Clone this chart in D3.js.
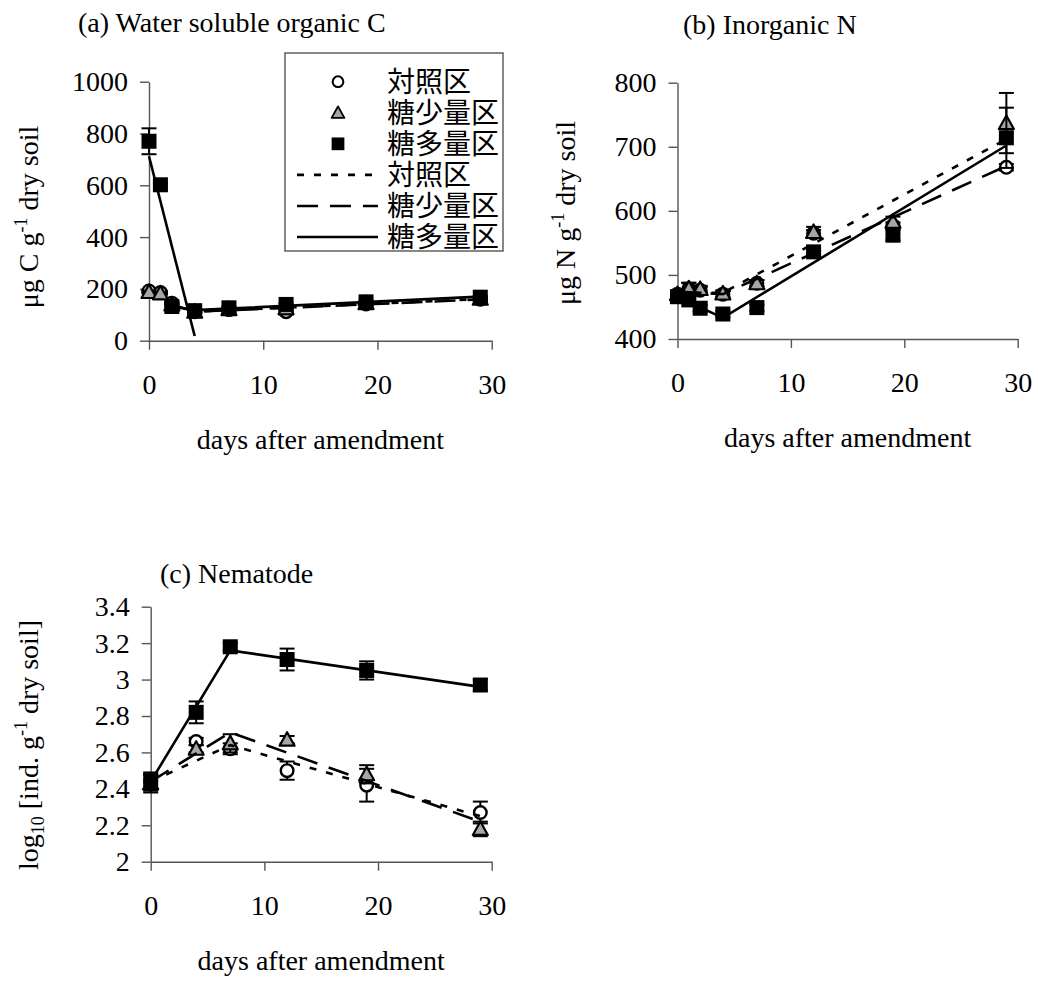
<meta charset="utf-8" />
<style>
	body { margin: 0; background: #fff; }
	text { font-family: 'Liberation Serif', 'Noto Sans CJK JP', serif; }
</style>
<svg width="1038" height="981"></svg>
<script src="https://cdn.jsdelivr.net/npm/d3@7/dist/d3.min.js"></script>
<script>
	// sampling days
	var daysAB = [0, 1, 2, 4, 7, 12, 19, 29];
	var daysC = [0, 4, 7, 12, 19, 29];

	// (a) water soluble organic C
	var ctrlA = [192, 186, 145, 112, 120, 112, 142, 160];
	var lowA = [188, 183, 140, 112, 122, 125, 145, 162];
	var highA = [770, 602, 132, 116, 127, 140, 150, 168];
	var ctrlAErr = [5, 5, 5, 5, 5, 5, 5, 5];
	var lowAErr = [5, 5, 5, 5, 5, 5, 5, 5];
	var highAErr = [50, 8, 8, 5, 5, 5, 5, 5];
	var ctrlALine = [[2, 140], [4, 112], [29, 161]];
	var lowALine = [[2, 140], [4, 112], [29, 159]];
	var highALine1 = [[0, 712], [4, 18]];
	var highALine2 = [[2, 132], [4, 118], [29, 170]];

	// (b) inorganic N
	var ctrlB = [470, 478, 476, 470, 487, 565, 577, 668];
	var lowB = [470, 479, 478, 471, 487, 567, 583, 737];
	var highB = [466, 461, 448, 439, 449, 536, 562, 714];
	var ctrlBErr = [5, 10, 5, 5, 5, 5, 5, 5];
	var lowBErr = [5, 8, 5, 5, 5, 8, 8, 47];
	var highBErr = [5, 5, 5, 5, 5, 5, 8, 47];
	var ctrlBLine = [[0, 472], [4, 472], [29, 712]];
	var lowBLine = [[0, 474], [4, 470], [29, 670]];
	var highBLine = [[0, 466], [4, 433], [29, 702]];

	// (c) nematode
	var ctrlC = [2.44, 2.66, 2.62, 2.5, 2.42, 2.27];
	var lowC = [2.43, 2.62, 2.65, 2.67, 2.48, 2.18];
	var highC = [2.44, 2.82, 3.18, 3.11, 3.05, 2.97];
	var ctrlCErr = [0.05, 0.02, 0.03, 0.05, 0.09, 0.06];
	var lowCErr = [0.05, 0.02, 0.05, 0.02, 0.05, 0.04];
	var highCErr = [0.04, 0.06, 0.02, 0.06, 0.05, 0.03];
	var ctrlCLine = [[0, 2.44], [7, 2.64], [29, 2.25]];
	var lowCLine = [[0, 2.44], [7, 2.71], [29, 2.22]];
	var highCLine = [[0, 2.44], [7, 3.16], [29, 2.96]];

	var xTicks = [0, 10, 20, 30];
	var yTicksA = [0, 200, 400, 600, 800, 1000];
	var yTicksB = [400, 500, 600, 700, 800];
	var yTicksC = [2, 2.2, 2.4, 2.6, 2.8, 3, 3.2, 3.4];
	var legendLabels = ['対照区', '糖少量区', '糖多量区'];

	var svg = d3.select('svg');
	var axisColor = '#555';
	var dotted = '7,10',
		dashed = '21,12';

	function marker(sel, type) {
		if (type === 'circle') {
			sel.append('circle').attr('r', 6.3).attr('fill', '#fff').attr('stroke', '#000').attr('stroke-width', 2.4);
		} else if (type === 'triangle') {
			sel.append('path').attr('d', 'M0,-7.5L7.5,6L-7.5,6Z').attr('fill', '#a6a6a6').attr('stroke', '#000').attr('stroke-width', 2.2).attr('stroke-linejoin', 'round');
		} else {
			sel.append('rect').attr('x', -7.5).attr('y', -7.5).attr('width', 15).attr('height', 15).attr('fill', '#000');
		}
	}

	function panel(p) {
		var x = d3.scaleLinear().domain([0, 30]).range([p.left, p.right]);
		var y = d3.scaleLinear().domain(p.yDomain).range([p.bottom, p.top]);
		var g = svg.append('g');

		var ya = g.append('g')
			.attr('transform', 'translate(' + p.left + ',0)')
			.call(d3.axisLeft(y).tickValues(p.yTicks).tickSize(9).tickSizeOuter(0).tickPadding(12).tickFormat(d3.format('')));
		var xa = g.append('g')
			.attr('transform', 'translate(0,' + p.bottom + ')')
			.call(d3.axisBottom(x).tickValues(xTicks).tickSize(9).tickSizeOuter(0).tickPadding(24));
		[ya, xa].forEach(a => {
			a.selectAll('path,line').attr('stroke', axisColor).attr('stroke-width', 1.4);
			a.selectAll('text').attr('font-size', 28).attr('fill', '#000');
		});

		var line = d3.line().x(d => x(d[0])).y(d => y(d[1]));

		// series markers with error bars
		p.series.forEach(s => {
			var sg = g.append('g');
			var pts = p.days.map((d, i) => ({ d: d, v: s.values[i], e: s.err[i] }));
			var eb = sg.selectAll('.eb').data(pts).enter().append('g').attr('stroke', '#000').attr('stroke-width', 2);
			eb.append('line').attr('x1', d => x(d.d)).attr('x2', d => x(d.d)).attr('y1', d => y(d.v - d.e)).attr('y2', d => y(d.v + d.e));
			eb.append('line').attr('x1', d => x(d.d) - 7.5).attr('x2', d => x(d.d) + 7.5).attr('y1', d => y(d.v - d.e)).attr('y2', d => y(d.v - d.e));
			eb.append('line').attr('x1', d => x(d.d) - 7.5).attr('x2', d => x(d.d) + 7.5).attr('y1', d => y(d.v + d.e)).attr('y2', d => y(d.v + d.e));
			sg.selectAll('.m').data(pts).enter().append('g')
				.attr('transform', d => 'translate(' + x(d.d) + ',' + y(d.v) + ')')
				.each(function () { marker(d3.select(this), s.type); });
		});

		// fitted lines
		p.lines.forEach(l => {
			g.append('path').datum(l.pts).attr('d', line).attr('fill', 'none')
				.attr('stroke', '#000').attr('stroke-width', 2.6)
				.attr('stroke-dasharray', l.dash);
		});

		g.append('text').attr('x', p.titleX).attr('y', p.titleY).attr('font-size', 28).text(p.title);
		g.append('text').attr('x', (p.left + p.right) / 2).attr('y', p.bottom + 108)
			.attr('text-anchor', 'middle').attr('font-size', 28).text('days after amendment');

		var yt = g.append('text').attr('font-size', 28).attr('text-anchor', 'middle')
			.attr('transform', 'translate(' + p.yTitleX + ',' + p.yTitleY + ') rotate(-90)');
		p.yTitle.forEach(t => {
			var ts = yt.append('tspan').text(t.s);
			if (t.sup) ts.attr('font-size', 18).attr('dy', -11);
			if (t.sub) ts.attr('font-size', 18).attr('dy', 6);
			if (t.back) ts.attr('dy', t.back);
		});
	}

	panel({
		left: 149, right: 491.7, top: 81.7, bottom: 340.7,
		yDomain: [0, 1000], yTicks: yTicksA, days: daysAB,
		series: [
			{ type: 'circle', values: ctrlA, err: ctrlAErr },
			{ type: 'triangle', values: lowA, err: lowAErr },
			{ type: 'square', values: highA, err: highAErr }
		],
		lines: [
			{ pts: ctrlALine, dash: dotted },
			{ pts: lowALine, dash: dashed },
			{ pts: highALine1, dash: null },
			{ pts: highALine2, dash: null }
		],
		title: '(a) Water soluble organic C', titleX: 78, titleY: 32,
		yTitleX: 38, yTitleY: 217,
		yTitle: [{ s: 'μg C g' }, { s: '-1', sup: true }, { s: ' dry soil', back: 11 }]
	});

	panel({
		left: 677.5, right: 1017.7, top: 82.7, bottom: 339,
		yDomain: [400, 800], yTicks: yTicksB, days: daysAB,
		series: [
			{ type: 'circle', values: ctrlB, err: ctrlBErr },
			{ type: 'triangle', values: lowB, err: lowBErr },
			{ type: 'square', values: highB, err: highBErr }
		],
		lines: [
			{ pts: ctrlBLine, dash: dotted },
			{ pts: lowBLine, dash: dashed },
			{ pts: highBLine, dash: null }
		],
		title: '(b) Inorganic N', titleX: 683, titleY: 34,
		yTitleX: 575, yTitleY: 213,
		yTitle: [{ s: 'μg N g' }, { s: '-1', sup: true }, { s: ' dry soil', back: 11 }]
	});

	panel({
		left: 150.7, right: 491.7, top: 606.7, bottom: 861.7,
		yDomain: [2, 3.4], yTicks: yTicksC, days: daysC,
		series: [
			{ type: 'circle', values: ctrlC, err: ctrlCErr },
			{ type: 'triangle', values: lowC, err: lowCErr },
			{ type: 'square', values: highC, err: highCErr }
		],
		lines: [
			{ pts: ctrlCLine, dash: dotted },
			{ pts: lowCLine, dash: dashed },
			{ pts: highCLine, dash: null }
		],
		title: '(c) Nematode', titleX: 160, titleY: 583,
		yTitleX: 38, yTitleY: 745,
		yTitle: [{ s: 'log' }, { s: '10', sub: true }, { s: ' [ind. g', back: -6 }, { s: '-1', sup: true }, { s: ' dry soil]', back: 11 }]
	});

	// legend
	var lg = svg.append('g');
	lg.append('rect').attr('x', 285).attr('y', 53).attr('width', 218).attr('height', 198)
		.attr('fill', '#fff').attr('stroke', axisColor).attr('stroke-width', 1.4);
	var types = ['circle', 'triangle', 'square'];
	var dashes = [dotted, dashed, null];
	var rowY = d3.scaleLinear().domain([0, 5]).range([81.7, 237]);
	legendLabels.forEach((lab, i) => {
		var r = lg.append('g').attr('transform', 'translate(338,' + rowY(i) + ')');
		marker(r, types[i]);
		r.select('*').attr('transform', 'scale(0.85)');
		lg.append('text').attr('x', 387).attr('y', rowY(i)).attr('dy', '0.35em')
			.attr('font-size', 28).text(lab);
	});
	legendLabels.forEach((lab, i) => {
		var yy = rowY(i + 3);
		lg.append('line').attr('x1', 297).attr('x2', 378).attr('y1', yy).attr('y2', yy)
			.attr('stroke', '#000').attr('stroke-width', 2.6).attr('stroke-dasharray', dashes[i]);
		lg.append('text').attr('x', 387).attr('y', yy).attr('dy', '0.35em')
			.attr('font-size', 28).text(lab);
	});
</script>
